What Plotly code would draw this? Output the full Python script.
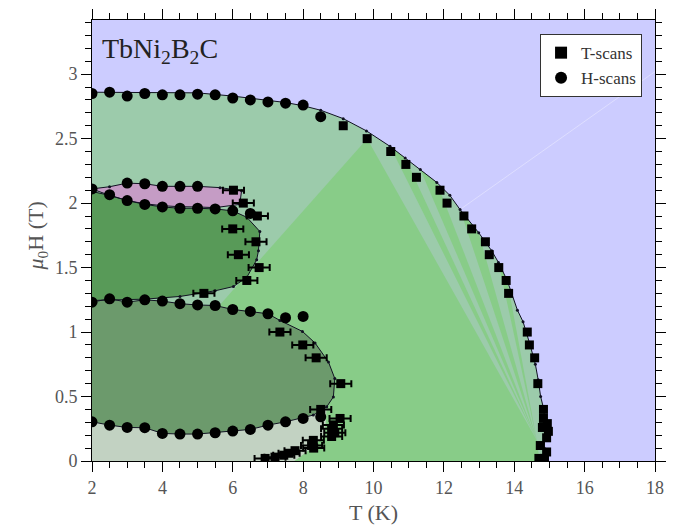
import plotly.graph_objects as go

# ---------------- data ----------------
# outer phase boundary (upper critical field)
outer_T = [2, 3, 4, 5, 6, 7, 7.5, 8, 8.5, 9.14, 9.8, 10.47, 10.9, 11.33, 11.8, 12.17, 12.46,
           12.99, 13.36, 13.55, 13.8, 14.09, 14.25, 14.45, 14.6, 14.68, 14.75, 14.84, 14.88, 14.85, 14.8]
outer_H = [2.86, 2.86, 2.86, 2.855, 2.83, 2.80, 2.78, 2.755, 2.72, 2.655, 2.56, 2.44, 2.35, 2.26, 2.16, 2.06, 1.95,
           1.77, 1.63, 1.54, 1.40, 1.17, 1.08, 0.90, 0.75, 0.63, 0.50, 0.40, 0.25, 0.10, 0.0]

# pink pocket
pink_T = [2, 2.5, 3, 3.5, 4, 4.5, 5, 5.64, 6.25, 6.2, 5.5, 5, 4.5, 4, 3.5, 3, 2.5, 2]
pink_H = [2.11, 2.127, 2.155, 2.15, 2.13, 2.13, 2.13, 2.12, 2.096, 1.99, 1.965, 1.97, 1.972, 1.98, 1.995, 2.02, 2.06, 2.11]

# dark green pocket
dark_T = [2, 2.5, 3, 3.5, 4, 4.5, 5, 5.5, 6, 6.4, 6.77, 6.73, 6.68, 6.4, 6.02, 5.5, 4.5, 3.5, 2]
dark_H = [2.09, 2.06, 2.02, 1.99, 1.97, 1.96, 1.96, 1.955, 1.94, 1.89, 1.78, 1.63, 1.56, 1.425, 1.353, 1.32, 1.276, 1.255, 1.245]

# lower (grey-green) pocket
ell_T = [2, 2.5, 3, 3.5, 4, 4.5, 5, 5.5, 6, 6.5, 7, 7.34, 7.98, 8.34, 8.72, 8.9, 8.86, 8.67,
         8.29, 7.5, 7, 6.5, 6, 5.5, 5, 4.5, 4, 3.5, 3, 2.5, 2]
ell_H = [1.232, 1.258, 1.232, 1.25, 1.24, 1.22, 1.21, 1.206, 1.175, 1.16, 1.142, 1.09, 1.005, 0.915, 0.768, 0.64, 0.497, 0.42,
         0.356, 0.304, 0.278, 0.245, 0.232, 0.219, 0.209, 0.209, 0.214, 0.258, 0.26, 0.278, 0.304]

# low-field pocket: bottom-left corner then right edge back up to the pocket above
low_T = [2, 7.75, 8.3, 8.62, 8.65, 8.67]
low_H = [0.0, 0.0, 0.11, 0.21, 0.33, 0.42]

# bright green wedge
bright_T = [5.5, 9.82, 14.64, 14.72, 7.5]
bright_H = [1.17, 2.50, 0.16, 0.0, 0.0]

# fan stripes (indices into the outer boundary) converging at the wedge corner
fan_pairs = [(11, 12), (13, 14), (16, 17), (19, 20)]

# H-scans
hs_T = [2, 2.5, 3, 3.5, 4, 4.5, 5, 5.5, 6, 6.5, 7, 7.5, 8, 8.5,
        2, 3, 3.5, 4, 4.5, 5,
        2.5, 3, 3.5, 4, 4.5, 5, 5.5, 6, 6.5,
        2, 2.5, 3, 3.5, 4, 4.5, 5, 5.5, 6, 6.5, 7, 7.5, 8,
        2, 2.5, 3, 3.5, 4, 4.5, 5, 5.5, 6, 6.5, 7, 7.5, 8, 8.5]
hs_H = [2.85, 2.86, 2.83, 2.85, 2.84, 2.84, 2.845, 2.84, 2.815, 2.80, 2.785, 2.775, 2.76, 2.67,
        2.11, 2.155, 2.15, 2.13, 2.13, 2.13,
        2.065, 2.02, 1.99, 1.97, 1.96, 1.96, 1.955, 1.94, 1.92,
        1.232, 1.258, 1.232, 1.25, 1.24, 1.22, 1.21, 1.206, 1.175, 1.16, 1.142, 1.111, 1.121,
        0.304, 0.278, 0.26, 0.258, 0.214, 0.209, 0.209, 0.219, 0.232, 0.245, 0.278, 0.304, 0.33, 0.343]

# T-scans on the outer boundary
tsb_T = [9.14, 9.82, 10.49, 10.92, 11.22, 11.89, 12.09, 12.57, 12.79, 13.18, 13.29, 13.56, 13.77, 13.84,
         14.37, 14.43, 14.58, 14.67, 14.83, 14.83, 14.94, 14.97, 14.8, 14.92, 14.74, 14.92, 14.70, 14.86]
tsb_H = [2.60, 2.50, 2.40, 2.30, 2.20, 2.10, 2.00, 1.90, 1.80, 1.70, 1.60, 1.50, 1.40, 1.30,
         1.00, 0.90, 0.80, 0.60, 0.40, 0.33, 0.29, 0.23, 0.26, 0.18, 0.12, 0.07, 0.02, 0.02]

# T-scans inside (with error bars)
tsi_T = [6.02, 6.3, 6.7, 6.0, 6.66, 6.16, 6.75, 6.4, 5.18,
         7.34, 7.99, 8.37, 9.07, 8.5,
         9.05, 8.86, 8.81, 8.9, 8.81, 8.29, 8.24, 8.3, 7.77, 7.6, 7.45, 7.2, 6.92]
tsi_H = [2.10, 2.00, 1.90, 1.80, 1.70, 1.60, 1.50, 1.40, 1.30,
         1.00, 0.90, 0.80, 0.60, 0.40,
         0.33, 0.28, 0.25, 0.22, 0.19, 0.16, 0.12, 0.10, 0.08, 0.06, 0.045, 0.03, 0.02]
tsi_err = [0.3] * len(tsi_T)

# ---------------- styles ----------------
FONT = "Liberation Serif"
C_BG = "#ccccff"
C_LIGHT = "#9ccbab"
C_BRIGHT = "#88cc88"
C_DARK = "#589a58"
C_ELL = "#6c9a6c"
C_LOW = "#c2d2c2"
C_PINK = "#c59cc5"
C_EDGE = "#111122"
C_TXT = "#555555"

fig = go.Figure()


def poly(xs, ys, color):
    fig.add_trace(go.Scatter(x=xs, y=ys, fill="toself", fillcolor=color, mode="none",
                             showlegend=False, hoverinfo="skip"))


def edge(xs, ys):
    fig.add_trace(go.Scatter(x=xs, y=ys, mode="lines+markers",
                             line=dict(color=C_EDGE, width=1),
                             marker=dict(color=C_EDGE, size=3),
                             showlegend=False, hoverinfo="skip"))


# light green: everything under the outer boundary
poly([outer_T[0]] + outer_T + [outer_T[0]], [0] + outer_H + [0], C_LIGHT)
# bright wedge + fan stripes
poly(bright_T, bright_H, C_BRIGHT)
for a, b in fan_pairs:
    poly([bright_T[2], outer_T[a], outer_T[b]], [bright_H[2], outer_H[a], outer_H[b]], C_BRIGHT)
# faint line in the normal state
fig.add_trace(go.Scatter(x=[outer_T[16], 18], y=[outer_H[16], 3.02], mode="lines",
                         line=dict(color="rgba(255,255,255,0.35)", width=1),
                         showlegend=False, hoverinfo="skip"))
# pockets
poly(pink_T, pink_H, C_PINK)
poly(dark_T, dark_H, C_DARK)
poly(ell_T, ell_H, C_ELL)
poly(ell_T[17:] + low_T, ell_H[17:] + low_H, C_LOW)

# edges
edge(outer_T, outer_H)
edge(pink_T, pink_H)
edge(dark_T, dark_H)
edge(ell_T, ell_H)

# error bars for the inner T-scans
fig.add_trace(go.Scatter(x=tsi_T, y=tsi_H, mode="markers",
                         marker=dict(size=9, symbol="square", color="black"),
                         error_x=dict(type="data", array=tsi_err, color="black", thickness=2, width=3.5),
                         showlegend=False, hoverinfo="skip"))

# T-scans (legend)
fig.add_trace(go.Scatter(x=tsb_T, y=tsb_H, mode="markers", name="T-scans",
                         marker=dict(size=9, symbol="square", color="black")))
# H-scans
fig.add_trace(go.Scatter(x=hs_T, y=hs_H, mode="markers", name="H-scans",
                         marker=dict(size=11, symbol="circle", color="black")))

axis_common = dict(showline=True, linecolor="black", linewidth=1, mirror="ticks",
                   ticks="outside", ticklen=10, tickwidth=1, tickcolor="black",
                   showgrid=False, zeroline=False, automargin=False,
                   tickfont=dict(family=FONT, size=18, color=C_TXT))

fig.update_xaxes(range=[2, 18], dtick=2, tick0=2,
                 minor=dict(dtick=0.5, ticks="outside", ticklen=6, tickcolor="black", showgrid=False),
                 title=dict(text="T (K)", font=dict(family=FONT, size=22, color=C_TXT), standoff=8),
                 **axis_common)
fig.update_yaxes(range=[0, 3.42], dtick=0.5, tick0=0,
                 minor=dict(dtick=0.1, ticks="outside", ticklen=6, tickcolor="black", showgrid=False),
                 **axis_common)

# y-axis title
fig.add_annotation(text="<i>μ</i><sub>0</sub>H (T)", xref="paper", yref="paper",
                   x=-0.097, y=0.51, xanchor="center", yanchor="middle", textangle=-90,
                   showarrow=False, font=dict(family=FONT, size=22, color=C_TXT))

fig.add_annotation(text="TbNi<sub>2</sub>B<sub>2</sub>C", xref="paper", yref="paper",
                   x=0.015, y=0.93, xanchor="left", yanchor="middle", showarrow=False,
                   font=dict(family=FONT, size=28, color="#222222"))

fig.update_layout(
    width=687, height=527,
    margin=dict(l=84, r=40, t=12, b=74),
    paper_bgcolor="white", plot_bgcolor=C_BG,
    font=dict(family=FONT, color="#333333"),
    legend=dict(x=0.977, xanchor="right", y=0.968, yanchor="top",
                bgcolor="white", bordercolor="#333333", borderwidth=1,
                font=dict(family=FONT, size=17, color="#333333"),
                itemsizing="constant", tracegroupgap=0),
)

fig.write_html("out.html")
